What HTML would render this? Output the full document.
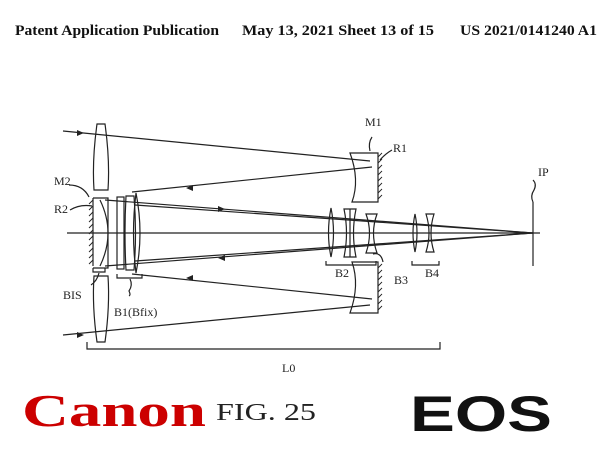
<!DOCTYPE html>
<html><head><meta charset="utf-8"><style>
body{margin:0;width:600px;height:453px;background:#fff;overflow:hidden}
svg{display:block}
</style></head><body>
<svg width="600" height="453" viewBox="0 0 600 453" xmlns="http://www.w3.org/2000/svg">
<g font-family="Liberation Serif, serif" font-weight="bold" font-size="14.5" fill="#111">
<text x="15" y="35" textLength="204" lengthAdjust="spacingAndGlyphs">Patent Application Publication</text>
<text x="242" y="35" textLength="192" lengthAdjust="spacingAndGlyphs">May 13, 2021  Sheet 13 of 15</text>
<text x="460" y="35" textLength="137" lengthAdjust="spacingAndGlyphs">US 2021/0141240 A1</text>
</g>
<g stroke="#222" stroke-width="1.2" fill="none">
<line x1="67" y1="233" x2="540" y2="233"/>
<line x1="533" y1="202" x2="533" y2="266"/>
<path d="M533 202 q-3 -6 1 -12 q3 -6 -1 -10"/>
<line x1="63" y1="131" x2="370" y2="161"/>
<line x1="372" y1="167" x2="132" y2="192"/>
<line x1="63" y1="335" x2="370" y2="305"/>
<line x1="372" y1="299" x2="132" y2="274"/>
<line x1="105" y1="200" x2="533" y2="233"/>
<line x1="105" y1="266" x2="533" y2="233"/>
<line x1="135" y1="205" x2="533" y2="233"/>
<line x1="135" y1="261" x2="533" y2="233"/>
<path d="M97 124 L105 124 Q110 160 108 190 L94 190 Q92 160 97 124 Z"/>
<path d="M97 342 L105 342 Q110 306 108 276 L94 276 Q92 306 97 342 Z"/>
<line x1="93" y1="198" x2="93" y2="266"/>
<path d="M93 198 L108 198 L108 268 L93 268"/>
<path d="M100 200 Q116 233 100 266"/>
<rect x="117" y="197" width="7" height="72"/>
<path d="M126 196 L134 196 Q137 233 134 270 L126 270 Q124 233 126 196Z"/>
<path d="M136 193 Q144 233 136 273 Q131 233 136 193Z"/>
<path d="M350 153 L378 153 L378 202 L352 202 Q360 180 350 153Z"/>
<path d="M350 313 L378 313 L378 262 L352 262 Q360 285 350 313Z"/>
<path d="M331 208 Q336 233 331 257 Q326 233 331 208Z"/>
<path d="M344 209 L356 209 Q351 233 356 257 L344 257 Q349 233 344 209Z"/>
<line x1="350" y1="209" x2="350" y2="257"/>
<path d="M366 214 L377 214 Q370 233 377 253 L366 253 Q373 233 366 214Z"/>
<path d="M415 214 Q419 233 415 252 Q411 233 415 214Z"/>
<path d="M426 214 L434 214 Q428 233 434 252 L426 252 Q432 233 426 214Z"/>
<path d="M326 261 v4 h50 v-4"/>
<path d="M412 261 v4 h27 v-4"/>
<path d="M117 274 v4 h25 v-4"/>
<path d="M93 268 v4 h12 v-4"/>
<path d="M87 342 v7 h353 v-7"/>
<path d="M69 185 q14 0 20 12"/>
<path d="M70 210 q10 -6 22 -4"/>
<path d="M99 273 q-2 8 -8 12"/>
<path d="M130 279 q3 6 -1 12 q2 4 0 5"/>
<path d="M370 151 q-2 -8 2 -14"/>
<path d="M380 160 q5 -6 12 -10"/>
<path d="M373 254 q8 -2 10 8"/>
</g>
<g stroke="#222" stroke-width="0.9">
<path d="M93 200 l-4 4 M93 206 l-4 4 M93 212 l-4 4 M93 218 l-4 4 M93 224 l-4 4 M93 230 l-4 4 M93 236 l-4 4 M93 242 l-4 4 M93 248 l-4 4 M93 254 l-4 4 M93 260 l-4 4"/>
<path d="M378 157 l4 -4 M378 163 l4 -4 M378 169 l4 -4 M378 175 l4 -4 M378 181 l4 -4 M378 187 l4 -4 M378 193 l4 -4 M378 199 l4 -4"/>
<path d="M378 268 l4 -4 M378 274 l4 -4 M378 280 l4 -4 M378 286 l4 -4 M378 292 l4 -4 M378 298 l4 -4 M378 304 l4 -4 M378 310 l4 -4"/>
</g>
<g fill="#222">
<path d="M84 133 l-7 -3 v6z"/>
<path d="M84 335 l-7 -3 v6z"/>
<path d="M186 188 l7 -3 v6z"/>
<path d="M186 278 l7 -3 v6z"/>
<path d="M225 209 l-7 -3 v6z"/>
<path d="M218 258 l7 -3 v6z"/>
</g>
<g font-family="Liberation Serif, serif" font-size="12" fill="#222">
<text x="365" y="126">M1</text>
<text x="393" y="152">R1</text>
<text x="538" y="176">IP</text>
<text x="54" y="185">M2</text>
<text x="54" y="213">R2</text>
<text x="63" y="299">BIS</text>
<text x="114" y="316">B1(Bfix)</text>
<text x="335" y="277">B2</text>
<text x="394" y="284">B3</text>
<text x="425" y="277">B4</text>
<text x="282" y="372">L0</text>
</g>
<text x="22" y="426" font-family="Liberation Serif, serif" font-weight="bold" font-size="46" fill="#cc0000" textLength="184" lengthAdjust="spacingAndGlyphs">Canon</text>
<text x="216" y="420" font-family="Liberation Serif, serif" font-size="24" fill="#222" textLength="100" lengthAdjust="spacingAndGlyphs">FIG. 25</text>
<text x="410" y="431" font-family="Liberation Sans, sans-serif" font-weight="bold" font-size="50" fill="#111" textLength="142" lengthAdjust="spacingAndGlyphs">EOS</text>
</svg>
</body></html>
